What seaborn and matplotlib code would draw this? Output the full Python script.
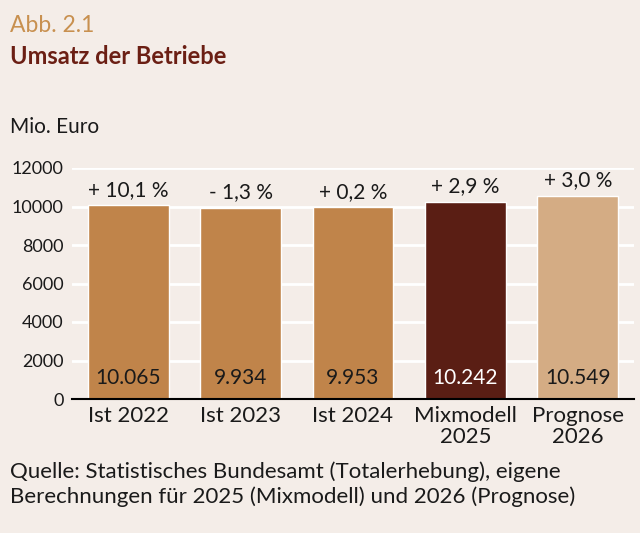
import numpy as np
import pandas as pd
import matplotlib.pyplot as plt
import seaborn as sns

# Daten
kategorien = ['Ist 2022', 'Ist 2023', 'Ist 2024', 'Mixmodell\n2025', 'Prognose\n2026']
umsatz = [10065, 9934, 9953, 10242, 10549]
wert_labels = ['10.065', '9.934', '9.953', '10.242', '10.549']
veraenderung = ['+ 10,1 %', '- 1,3 %', '+ 0,2 %', '+ 2,9 %', '+ 3,0 %']
farben = ['#C0844A', '#C0844A', '#C0844A', '#5A1E14', '#D4AC84']
label_farben = ['#1a1a1a', '#1a1a1a', '#1a1a1a', 'white', '#1a1a1a']

df = pd.DataFrame({'Kategorie': kategorien, 'Umsatz': umsatz})

bg = '#F4EDE8'
sns.set_style('white')
plt.rcParams['font.family'] = ['Lato', 'DejaVu Sans']

fig = plt.figure(figsize=(6.4, 5.33), dpi=100, facecolor=bg)
ax = fig.add_axes([72 / 640, 1 - 399 / 533, 562 / 640, 231 / 533])
ax.set_facecolor(bg)

sns.barplot(data=df, x='Kategorie', y='Umsatz', hue='Kategorie', palette=farben,
            legend=False, width=0.72, ax=ax, saturation=1)

ax.set_ylim(0, 12000)
ax.set_xlim(-0.5, 4.5)
ax.set_yticks(np.arange(0, 12001, 2000))
ax.yaxis.grid(True, color='white', linewidth=2)
ax.set_axisbelow(True)
for s in ['top', 'right', 'left']:
    ax.spines[s].set_visible(False)
ax.spines['bottom'].set_color('black')
ax.spines['bottom'].set_linewidth(1.5)
ax.tick_params(axis='y', length=0, pad=6, labelsize=13, labelcolor='#1a1a1a')
ax.tick_params(axis='x', length=0, pad=5, labelsize=16, labelcolor='#1a1a1a')
ax.set_xlabel('')
ax.set_ylabel('')
for lab in ax.get_xticklabels():
    lab.set_linespacing(1.05)

for i, v in enumerate(umsatz):
    ax.text(i, 550, wert_labels[i], ha='center', va='bottom', fontsize=15, color=label_farben[i])
    ax.annotate(veraenderung[i], (i, v), xytext=(0, 4), textcoords='offset points',
                ha='center', va='bottom', fontsize=15, color='#1a1a1a')

fig.text(10 / 640, 1 - 26 / 533, 'Abb. 2.1', fontsize=16.5, color='#C8904F', va='center')
fig.text(10 / 640, 1 - 56 / 533, 'Umsatz der Betriebe', fontsize=17, fontweight='bold',
         color='#6B1F14', va='center')
fig.text(10 / 640, 1 - 127 / 533, 'Mio. Euro', fontsize=15, color='#1a1a1a', va='center')
fig.text(10 / 640, 1 - 484 / 533,
         'Quelle: Statistisches Bundesamt (Totalerhebung), eigene\n'
         'Berechnungen für 2025 (Mixmodell) und 2026 (Prognose)',
         fontsize=16, color='#1a1a1a', va='center', linespacing=1.25)

fig.savefig('out.png', dpi=100, facecolor=bg)
